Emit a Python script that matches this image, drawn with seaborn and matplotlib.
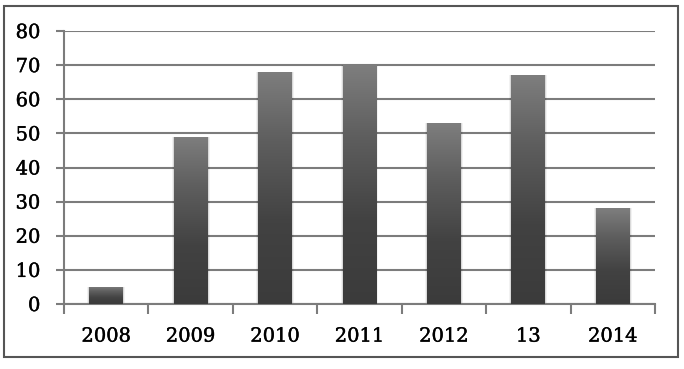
import matplotlib
matplotlib.use("Agg")
import matplotlib.pyplot as plt
import matplotlib.patheffects as pe
import seaborn as sns
import numpy as np
import pandas as pd
from matplotlib.colors import LinearSegmentedColormap
from matplotlib.patches import Rectangle

categories = ["2008", "2009", "2010", "2011", "2012", "13", "2014"]
values = [5, 49, 68, 70, 53, 67, 28]
yticks = [0, 10, 20, 30, 40, 50, 60, 70, 80]

sns.set_theme(style="white")
plt.rcParams['font.family'] = ['DejaVu Serif']

df = pd.DataFrame({"cat": categories, "val": values})

fig = plt.figure(figsize=(6.84, 3.69), dpi=100)
ax = fig.add_axes([64/684, 1 - 304/369, (655-64)/684, (304-31)/369])

sns.barplot(data=df, x="cat", y="val", ax=ax, color="#444444", width=0.4, saturation=1, zorder=3)

ax.set_ylim(0, 80)
ax.set_yticks(yticks)
ax.set_xlim(-0.5, len(categories) - 0.5)
ax.set_xlabel("")
ax.set_ylabel("")

gridc = "#7c7c7c"
ax.yaxis.grid(True, color=gridc, linewidth=1.5, zorder=0)
ax.set_axisbelow(True)

for s in ["top", "right"]:
    ax.spines[s].set_visible(False)
for s in ["left", "bottom"]:
    ax.spines[s].set_color(gridc)
    ax.spines[s].set_linewidth(1.5)

ax.set_xticks(np.arange(len(categories)))
ax.set_xticklabels(categories)
ax.tick_params(axis="x", length=0, pad=17, labelsize=14, colors="black")
ax.set_xticks(np.arange(len(categories) + 1) - 0.5, minor=True)
ax.tick_params(axis="x", which="minor", length=7, width=1.5, color=gridc, direction="out", bottom=True)
ax.tick_params(axis="y", length=6, width=1.5, color=gridc, pad=11, labelsize=14, left=True, labelcolor="black")
for lab in ax.get_xticklabels() + ax.get_yticklabels():
    lab.set_path_effects([pe.withStroke(linewidth=0.3, foreground="black")])

# per-bar vertical gradient
cmap = LinearSegmentedColormap.from_list("g", [(0, "#3b3b3b"), (0.35, "#424242"), (0.7, "#5e5e5e"), (1.0, "#7e7e7e")])
grad = np.linspace(0, 1, 256).reshape(-1, 1)
for p in ax.patches:
    x0, y0 = p.get_x(), p.get_y()
    w, h = p.get_width(), p.get_height()
    im = ax.imshow(grad, cmap=cmap, aspect="auto", origin="lower",
                   extent=[x0, x0 + w, y0, y0 + h], zorder=4, interpolation="bilinear")
    im.set_clip_path(p)
    for dx, a in [(0.012, 0.10), (0.024, 0.05)]:
        ax.add_patch(Rectangle((x0 - dx, y0), w + 2 * dx, h, facecolor="#000000",
                               alpha=a, zorder=2.5, edgecolor="none"))
    p.set_edgecolor("none")
ax.set_xlim(-0.5, len(categories) - 0.5)
ax.set_ylim(0, 80)

fig.patches.append(Rectangle((4/684, 1 - 357/369), (678-4)/684, (357-6)/369,
                             transform=fig.transFigure, fill=False,
                             edgecolor="#555555", linewidth=1.5))

fig.savefig("out.png", dpi=100, facecolor="white")
